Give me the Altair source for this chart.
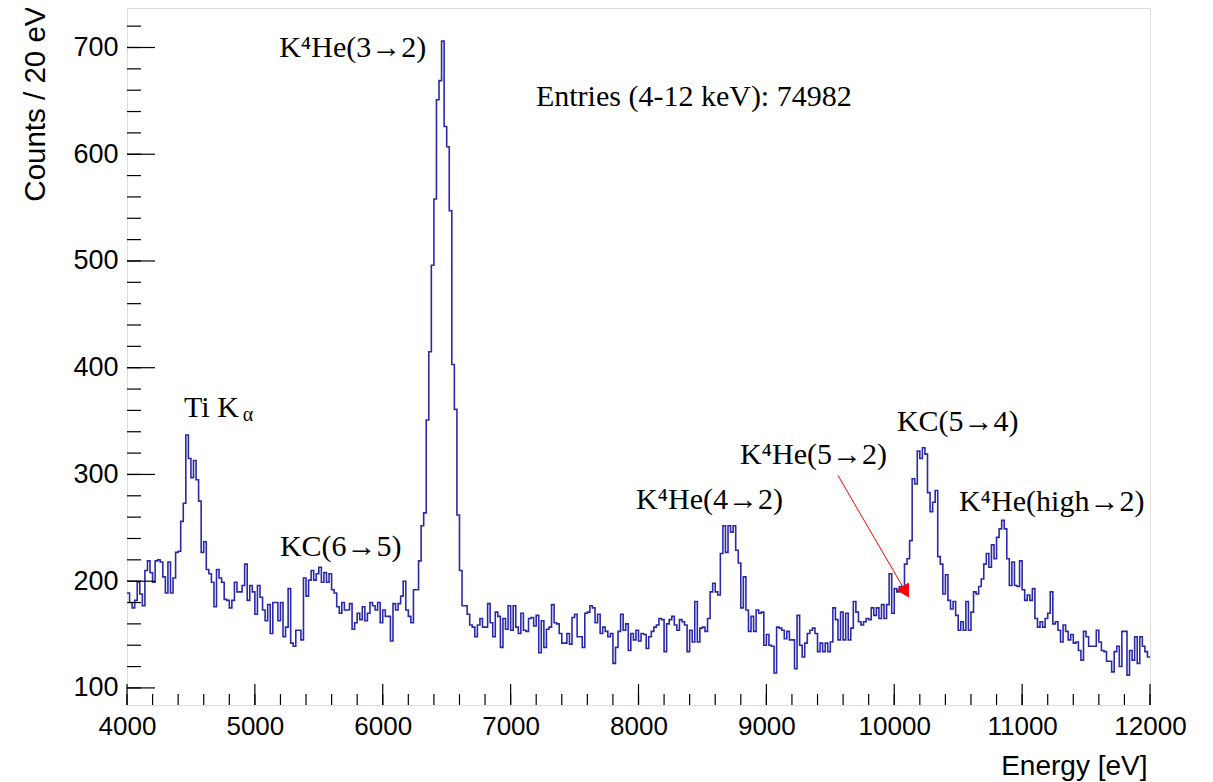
import altair as alt
import pandas as pd

# ---------------- data ----------------
e_min, e_max, bin_width = 4000, 12000, 20

counts = [
    # 4000-5040
    189,180,175,182,199,188,177,210,219,208,
    199,219,220,218,204,189,218,189,203,227,
    228,256,273,337,315,297,313,295,275,227,
    237,211,207,199,176,211,203,199,183,182,
    175,182,199,190,190,196,216,182,196,190,
    169,196,
    # 5040-6060
    185,173,163,178,151,180,180,163,180,148,
    157,193,142,139,154,154,145,203,186,201,
    210,201,207,213,199,208,199,207,192,189,
    176,170,180,173,173,179,155,161,170,164,
    176,163,170,180,177,173,180,161,173,167,
    167,
    # 6060-7000
    144,179,173,179,186,200,173,167,161,192,
    192,219,252,264,351,415,496,558,651,669,
    706,626,607,547,403,361,262,210,177,177,
    169,159,157,148,159,165,157,157,179,161,
    148,171,167,138,165,155,177,
    # 7000-8020
    154,177,157,151,170,154,153,165,166,158,
    168,133,163,138,155,157,178,161,160,151,
    142,142,151,141,166,169,148,148,138,170,
    171,177,175,161,169,151,157,153,148,151,
    123,138,153,169,154,160,135,151,145,154,
    144,
    # 8020-9100
    151,150,137,148,153,157,159,165,164,134,
    160,164,167,159,154,164,162,159,134,154,
    143,181,143,156,157,153,165,190,198,190,
    187,226,252,227,252,246,252,229,217,175,
    204,173,153,167,153,173,170,171,140,150,
    140,139,114,157,
    # 9100-10100
    156,154,146,153,145,145,118,168,140,129,
    142,151,154,156,151,134,142,134,142,134,
    143,175,164,145,171,145,170,145,156,181,
    171,162,159,162,165,164,175,168,175,165,
    178,165,178,207,170,193,190,195,192,216,
    # 10100-10980
    221,238,296,291,322,315,325,319,283,265,
    274,285,223,216,188,206,182,174,181,168,
    154,162,154,181,154,171,190,188,195,202,
    216,226,213,234,221,241,249,257,249,221,
    196,218,196,195,
    # 10980-12000
    219,192,182,187,182,193,165,157,162,157,
    165,170,190,160,162,154,143,159,153,145,
    150,142,143,135,126,153,148,139,139,
    139,154,143,135,134,125,125,115,134,139,
    120,153,153,112,135,126,148,123,148,139,134,129,
]

x_major = [4000, 5000, 6000, 7000, 8000, 9000, 10000, 11000, 12000]
x_minor = list(range(4000, 12001, 200))
y_major = [100, 200, 300, 400, 500, 600, 700]
y_minor = list(range(100, 737, 20))

labels_main = ["K⁴He(3→2)", "KC(6→5)", "K⁴He(4→2)", "K⁴He(5→2)", "KC(5→4)", "K⁴He(high→2)", "Ti K"]
labels_x = [5190, 5196, 7980, 8793, 10021, 10506, 4446]
labels_y = [691, 224, 268, 310, 341, 266, 354]

entries_text = ["Entries (4-12 keV): 74982"]
entries_x = [7198]
entries_y = [645]

alpha_text = ["α"]
alpha_x = [4905]
alpha_y = [350]

arrow_x, arrow_y, arrow_x2, arrow_y2 = [9560], [299], [10090], [190]

# ---------------- build ----------------
edges = [e_min + bin_width * i for i in range(len(counts))] + [e_max]
hist = pd.DataFrame({"energy": edges, "counts": counts + [counts[-1]]})

W, H = 1023, 697
xs = alt.Scale(domain=[e_min, e_max], nice=False, zero=False)
ys = alt.Scale(domain=[84, 737], nice=False, zero=False)

FONT = "Liberation Sans"
SERIF = "Liberation Serif"

line = alt.Chart(hist).mark_line(interpolate="step-after", color="#2a2aa8", strokeWidth=1.6).encode(
    x=alt.X("energy:Q", scale=xs, axis=alt.Axis(
        values=x_major, format="d", ticks=False, grid=False, domain=False,
        labelFont=FONT, labelFontSize=26, labelColor="black", labelPadding=8,
        title="Energy [eV]", titleFont=FONT, titleFontSize=28, titleFontWeight="normal",
        titleColor="black", titleAlign="right", titleX=1020, titleY=61, titleBaseline="middle",
        labelFlush=False)),
    y=alt.Y("counts:Q", scale=ys, axis=alt.Axis(
        values=y_major, format="d", ticks=False, grid=False, domain=False,
        labelFont=FONT, labelFontSize=27, labelColor="black", labelPadding=9,
        title="Counts / 20 eV", titleFont=FONT, titleFontSize=29.5, titleFontWeight="normal",
        titleColor="black", titleAngle=-90, titleAlign="right", titleX=-92, titleY=-2,
        titleBaseline="middle", labelFlush=False)),
)

xmaj = alt.Chart(pd.DataFrame({"x": x_major})).mark_rule(color="black", strokeWidth=1.2).encode(
    x=alt.X("x:Q", scale=xs), y=alt.value(H), y2=alt.value(H - 21))
xmin = alt.Chart(pd.DataFrame({"x": x_minor})).mark_rule(color="black", strokeWidth=1.2).encode(
    x=alt.X("x:Q", scale=xs), y=alt.value(H), y2=alt.value(H - 11))
ymaj = alt.Chart(pd.DataFrame({"y": y_major})).mark_rule(color="black", strokeWidth=1.2).encode(
    y=alt.Y("y:Q", scale=ys), x=alt.value(0), x2=alt.value(28))
ymin = alt.Chart(pd.DataFrame({"y": y_minor})).mark_rule(color="black", strokeWidth=1.2).encode(
    y=alt.Y("y:Q", scale=ys), x=alt.value(0), x2=alt.value(14))

ann = alt.Chart(pd.DataFrame({"x": labels_x, "y": labels_y, "t": labels_main})).mark_text(
    font=SERIF, fontSize=30, align="left", baseline="alphabetic", color="black").encode(
    x=alt.X("x:Q", scale=xs), y=alt.Y("y:Q", scale=ys), text="t:N")
ent = alt.Chart(pd.DataFrame({"x": entries_x, "y": entries_y, "t": entries_text})).mark_text(
    font=SERIF, fontSize=30, align="left", baseline="alphabetic", color="black").encode(
    x=alt.X("x:Q", scale=xs), y=alt.Y("y:Q", scale=ys), text="t:N")
alp = alt.Chart(pd.DataFrame({"x": alpha_x, "y": alpha_y, "t": alpha_text})).mark_text(
    font=SERIF, fontSize=20, align="left", baseline="alphabetic", color="black").encode(
    x=alt.X("x:Q", scale=xs), y=alt.Y("y:Q", scale=ys), text="t:N")

arr_df = pd.DataFrame({"x": arrow_x, "y": arrow_y, "x2": arrow_x2, "y2": arrow_y2})
arrow = alt.Chart(arr_df).mark_rule(color="red", strokeWidth=1).encode(
    x=alt.X("x:Q", scale=xs), y=alt.Y("y:Q", scale=ys), x2="x2:Q", y2="y2:Q")
head = alt.Chart(arr_df).mark_point(shape="triangle-up", filled=True, color="red", opacity=1,
                                    size=220, angle=150).encode(
    x=alt.X("x2:Q", scale=xs), y=alt.Y("y2:Q", scale=ys))

chart = alt.layer(line, xmin, xmaj, ymin, ymaj, arrow, head, ann, alp, ent).properties(
    width=W, height=H, autosize="none",
    padding={"left": 119, "top": 0, "right": 55, "bottom": 76},
).configure_view(stroke="black", strokeWidth=1.5).configure(background="white")

chart.save("out.html", embed_options={"renderer": "svg", "actions": False})
